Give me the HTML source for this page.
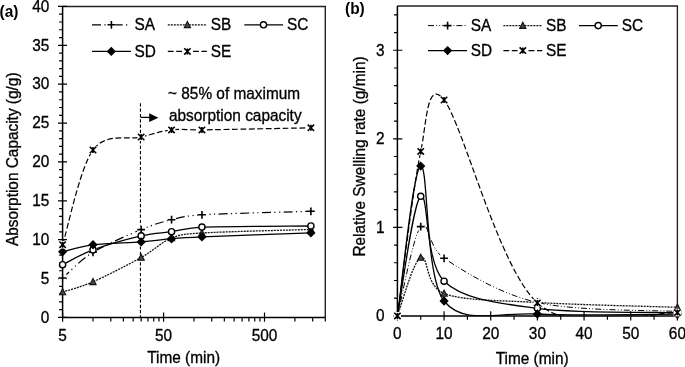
<!DOCTYPE html><html><head><meta charset="utf-8"><style>html,body{margin:0;padding:0;background:#fff;width:685px;height:367px;overflow:hidden}svg{display:block;filter:grayscale(1)}</style></head><body>
<svg width="685" height="367" viewBox="0 0 685 367">
<rect width="685" height="367" fill="#fff"/>
<defs><clipPath id="ca"><rect x="62.6" y="6.45" width="262.7" height="310.95"/></clipPath><clipPath id="cb"><rect x="397.4" y="6" width="280" height="309.9"/></clipPath></defs>
<path d="M62.6,6.45H325.3V317.4" fill="none" stroke="#222" stroke-width="1.4"/>
<path d="M58,317.4H67M59.1,309.63H62.6M59.1,301.85H62.6M59.1,294.08H62.6M59.1,286.3H62.6M58,278.53H67M59.1,270.76H62.6M59.1,262.98H62.6M59.1,255.21H62.6M59.1,247.44H62.6M58,239.66H67M59.1,231.89H62.6M59.1,224.11H62.6M59.1,216.34H62.6M59.1,208.57H62.6M58,200.79H67M59.1,193.02H62.6M59.1,185.25H62.6M59.1,177.47H62.6M59.1,169.7H62.6M58,161.92H67M59.1,154.15H62.6M59.1,146.38H62.6M59.1,138.6H62.6M59.1,130.83H62.6M58,123.06H67M59.1,115.28H62.6M59.1,107.51H62.6M59.1,99.73H62.6M59.1,91.96H62.6M58,84.19H67M59.1,76.41H62.6M59.1,68.64H62.6M59.1,60.87H62.6M59.1,53.09H62.6M58,45.32H67M59.1,37.55H62.6M59.1,29.77H62.6M59.1,22H62.6M59.1,14.22H62.6M58,6.45H67M62.6,312.6V321.8M163.56,312.6V321.8M264.52,312.6V321.8M92.99,317.4V321.4M110.77,317.4V321.4M123.38,317.4V321.4M133.17,317.4V321.4M141.16,317.4V321.4M147.92,317.4V321.4M153.77,317.4V321.4M158.94,317.4V321.4M193.95,317.4V321.4M211.73,317.4V321.4M224.34,317.4V321.4M234.13,317.4V321.4M242.12,317.4V321.4M248.88,317.4V321.4M254.73,317.4V321.4M259.9,317.4V321.4M294.91,317.4V321.4M312.69,317.4V321.4M325.3,317.4V321.4M325.3,317.4V321.4" stroke="#000" stroke-width="1.2" fill="none"/>
<path d="M62.6,6.45V317.4H325.3" fill="none" stroke="#000" stroke-width="1.5"/>
<text transform="translate(49.4,322.7) scale(1,1.08)" text-anchor="end" font-family="Liberation Sans, sans-serif" font-size="15.4" fill="#000" stroke="#000" stroke-width="0.3">0</text>
<text transform="translate(49.4,283.83) scale(1,1.08)" text-anchor="end" font-family="Liberation Sans, sans-serif" font-size="15.4" fill="#000" stroke="#000" stroke-width="0.3">5</text>
<text transform="translate(49.4,244.96) scale(1,1.08)" text-anchor="end" font-family="Liberation Sans, sans-serif" font-size="15.4" fill="#000" stroke="#000" stroke-width="0.3">10</text>
<text transform="translate(49.4,206.09) scale(1,1.08)" text-anchor="end" font-family="Liberation Sans, sans-serif" font-size="15.4" fill="#000" stroke="#000" stroke-width="0.3">15</text>
<text transform="translate(49.4,167.22) scale(1,1.08)" text-anchor="end" font-family="Liberation Sans, sans-serif" font-size="15.4" fill="#000" stroke="#000" stroke-width="0.3">20</text>
<text transform="translate(49.4,128.36) scale(1,1.08)" text-anchor="end" font-family="Liberation Sans, sans-serif" font-size="15.4" fill="#000" stroke="#000" stroke-width="0.3">25</text>
<text transform="translate(49.4,89.49) scale(1,1.08)" text-anchor="end" font-family="Liberation Sans, sans-serif" font-size="15.4" fill="#000" stroke="#000" stroke-width="0.3">30</text>
<text transform="translate(49.4,50.62) scale(1,1.08)" text-anchor="end" font-family="Liberation Sans, sans-serif" font-size="15.4" fill="#000" stroke="#000" stroke-width="0.3">35</text>
<text transform="translate(49.4,11.75) scale(1,1.08)" text-anchor="end" font-family="Liberation Sans, sans-serif" font-size="15.4" fill="#000" stroke="#000" stroke-width="0.3">40</text>
<text transform="translate(62.6,341) scale(1,1.08)" text-anchor="middle" font-family="Liberation Sans, sans-serif" font-size="15.4" fill="#000" stroke="#000" stroke-width="0.3">5</text>
<text transform="translate(163.56,341) scale(1,1.08)" text-anchor="middle" font-family="Liberation Sans, sans-serif" font-size="15.4" fill="#000" stroke="#000" stroke-width="0.3">50</text>
<text transform="translate(264.52,341) scale(1,1.08)" text-anchor="middle" font-family="Liberation Sans, sans-serif" font-size="15.4" fill="#000" stroke="#000" stroke-width="0.3">500</text>
<text transform="translate(183.6,362.7) scale(1,1.08)" text-anchor="middle" font-family="Liberation Sans, sans-serif" font-size="15.4" fill="#000" stroke="#000" stroke-width="0.3">Time (min)</text>
<text transform="translate(18.4,159.3) rotate(-90) scale(1,1.08)" text-anchor="middle" font-family="Liberation Sans, sans-serif" font-size="15.4" fill="#000" stroke="#000" stroke-width="0.3">Absorption Capacity (g/g)</text>
<text transform="translate(-0.5,17.3) scale(1,1.08)" font-family="Liberation Sans, sans-serif" font-size="15.5" font-weight="bold">(a)</text>
<path d="M140.45,103.3V317" stroke="#000" stroke-width="1.1" stroke-dasharray="3.2 2.1" fill="none"/>
<path d="M140.45,117.4H150" stroke="#000" stroke-width="1.3"/>
<path d="M149.2,113.2L158.4,117.7L149.2,122.1Z" fill="#000"/>
<text transform="translate(168,98.6) scale(1,1.08)" font-family="Liberation Sans, sans-serif" font-size="15.4" fill="#000" stroke="#000" stroke-width="0.3">~ 85% of maximum</text>
<text transform="translate(169,121) scale(1,1.08)" font-family="Liberation Sans, sans-serif" font-size="15.4" fill="#000" stroke="#000" stroke-width="0.3">absorption capacity</text>
<g clip-path="url(#ca)">
<path d="M62.6,278 C67.67,273.72 79.9,260.37 92.99,252.3 C106.09,244.23 128.07,235.03 141.16,229.6 C154.25,224.17 161.42,222.17 171.55,219.7 C181.68,217.23 186.58,215.73 201.94,214.8 C225.17,213.4 292.74,211.88 310.9,211.3" fill="none" stroke="#000" stroke-width="1.2" stroke-dasharray="9 3.4 1.2 3.4 1.2 3.4"/>
<path d="M62.6,292 C67.67,290.3 79.9,287.55 92.99,281.8 C106.09,276.05 128.07,264.8 141.16,257.5 C154.25,250.2 161.42,242.08 171.55,238 C181.68,233.92 186.57,233.95 201.94,233 C225.17,231.57 292.74,230 310.9,229.4" fill="none" stroke="#111" stroke-width="1.3" stroke-dasharray="2 1"/>
<path d="M62.6,264.7 C67.67,262.23 79.9,254.7 92.99,249.9 C106.09,245.1 128.07,238.93 141.16,235.9 C154.25,232.87 161.42,233.17 171.55,231.7 C181.68,230.23 186.59,227.73 201.94,227.1 C225.17,226.15 292.74,226.18 310.9,226" fill="none" stroke="#000" stroke-width="1.3"/>
<path d="M62.6,251.7 C67.67,250.55 79.9,246.43 92.99,244.8 C106.09,243.17 128.07,242.92 141.16,241.9 C154.25,240.88 161.42,239.53 171.55,238.7 C181.68,237.87 186.73,237.53 201.94,236.9 C225.17,235.93 292.74,233.57 310.9,232.9" fill="none" stroke="#000" stroke-width="1.3"/>
<path d="M62.6,244.7 C67.67,228.92 79.9,167.95 92.99,150 C106.09,132.05 128.07,140.35 141.16,137 C154.25,133.65 161.42,131.08 171.55,129.9 C181.68,128.72 186.75,130.13 201.94,129.9 C225.17,129.55 292.74,128.15 310.9,127.8" fill="none" stroke="#000" stroke-width="1.2" stroke-dasharray="5.8 2.6"/>
</g>
<rect x="58.7" y="274.1" width="7.8" height="7.8" fill="#fff"/><path d="M58.7,278h7.8M62.6,274.1v7.8" stroke="#000" stroke-width="1.6" fill="none"/>
<rect x="89.09" y="248.4" width="7.8" height="7.8" fill="#fff"/><path d="M89.09,252.3h7.8M92.99,248.4v7.8" stroke="#000" stroke-width="1.6" fill="none"/>
<rect x="137.26" y="225.7" width="7.8" height="7.8" fill="#fff"/><path d="M137.26,229.6h7.8M141.16,225.7v7.8" stroke="#000" stroke-width="1.6" fill="none"/>
<rect x="167.65" y="215.8" width="7.8" height="7.8" fill="#fff"/><path d="M167.65,219.7h7.8M171.55,215.8v7.8" stroke="#000" stroke-width="1.6" fill="none"/>
<rect x="198.04" y="210.9" width="7.8" height="7.8" fill="#fff"/><path d="M198.04,214.8h7.8M201.94,210.9v7.8" stroke="#000" stroke-width="1.6" fill="none"/>
<rect x="307" y="207.4" width="7.8" height="7.8" fill="#fff"/><path d="M307,211.3h7.8M310.9,207.4v7.8" stroke="#000" stroke-width="1.6" fill="none"/>
<path d="M62.6,288.7L65.7,294.8L59.5,294.8Z" fill="#484848" stroke="#111" stroke-width="1.1"/>
<path d="M92.99,278.5L96.09,284.6L89.89,284.6Z" fill="#484848" stroke="#111" stroke-width="1.1"/>
<path d="M141.16,254.2L144.26,260.3L138.06,260.3Z" fill="#484848" stroke="#111" stroke-width="1.1"/>
<path d="M171.55,234.7L174.65,240.8L168.45,240.8Z" fill="#484848" stroke="#111" stroke-width="1.1"/>
<path d="M201.94,229.7L205.04,235.8L198.84,235.8Z" fill="#484848" stroke="#111" stroke-width="1.1"/>
<path d="M310.9,226.1L314,232.2L307.8,232.2Z" fill="#484848" stroke="#111" stroke-width="1.1"/>
<circle cx="62.6" cy="264.7" r="3.1" fill="#fff" stroke="#000" stroke-width="1.4"/>
<circle cx="92.99" cy="249.9" r="3.1" fill="#fff" stroke="#000" stroke-width="1.4"/>
<circle cx="141.16" cy="235.9" r="3.1" fill="#fff" stroke="#000" stroke-width="1.4"/>
<circle cx="171.55" cy="231.7" r="3.1" fill="#fff" stroke="#000" stroke-width="1.4"/>
<circle cx="201.94" cy="227.1" r="3.1" fill="#fff" stroke="#000" stroke-width="1.4"/>
<circle cx="310.9" cy="226" r="3.1" fill="#fff" stroke="#000" stroke-width="1.4"/>
<path d="M62.6,247L67.2,251.7L62.6,256.4L58,251.7Z" fill="#000"/>
<path d="M92.99,240.1L97.59,244.8L92.99,249.5L88.39,244.8Z" fill="#000"/>
<path d="M141.16,237.2L145.76,241.9L141.16,246.6L136.56,241.9Z" fill="#000"/>
<path d="M171.55,234L176.15,238.7L171.55,243.4L166.95,238.7Z" fill="#000"/>
<path d="M201.94,232.2L206.54,236.9L201.94,241.6L197.34,236.9Z" fill="#000"/>
<path d="M310.9,228.2L315.5,232.9L310.9,237.6L306.3,232.9Z" fill="#000"/>
<rect x="58.8" y="240.9" width="7.6" height="7.6" fill="#fff"/><path d="M59.4,241.5l6.4,6.4M65.8,241.5l-6.4,6.4M62.6,241.7v6" stroke="#000" stroke-width="1.6" fill="none"/>
<rect x="89.19" y="146.2" width="7.6" height="7.6" fill="#fff"/><path d="M89.79,146.8l6.4,6.4M96.19,146.8l-6.4,6.4M92.99,147v6" stroke="#000" stroke-width="1.6" fill="none"/>
<rect x="137.36" y="133.2" width="7.6" height="7.6" fill="#fff"/><path d="M137.96,133.8l6.4,6.4M144.36,133.8l-6.4,6.4M141.16,134v6" stroke="#000" stroke-width="1.6" fill="none"/>
<rect x="167.75" y="126.1" width="7.6" height="7.6" fill="#fff"/><path d="M168.35,126.7l6.4,6.4M174.75,126.7l-6.4,6.4M171.55,126.9v6" stroke="#000" stroke-width="1.6" fill="none"/>
<rect x="198.14" y="126.1" width="7.6" height="7.6" fill="#fff"/><path d="M198.74,126.7l6.4,6.4M205.14,126.7l-6.4,6.4M201.94,126.9v6" stroke="#000" stroke-width="1.6" fill="none"/>
<rect x="307.1" y="124" width="7.6" height="7.6" fill="#fff"/><path d="M307.7,124.6l6.4,6.4M314.1,124.6l-6.4,6.4M310.9,124.8v6" stroke="#000" stroke-width="1.6" fill="none"/>
<path d="M92,24.8H130.3" stroke="#000" stroke-width="1.2" stroke-dasharray="9 3.4 1.2 3.4 1.2 3.4" fill="none"/>
<rect x="107.5" y="20.9" width="7.8" height="7.8" fill="#fff"/><path d="M107.5,24.8h7.8M111.4,20.9v7.8" stroke="#000" stroke-width="1.6" fill="none"/>
<text transform="translate(134.5,30.1) scale(1,1.08)" font-family="Liberation Sans, sans-serif" font-size="15.4" fill="#000" stroke="#000" stroke-width="0.3">SA</text>
<path d="M167.8,24.8H206.9" stroke="#111" stroke-width="1.3" stroke-dasharray="2 1" fill="none"/>
<path d="M187.4,21.5L190.5,27.6L184.3,27.6Z" fill="#484848" stroke="#111" stroke-width="1.1"/>
<text transform="translate(210.8,30.1) scale(1,1.08)" font-family="Liberation Sans, sans-serif" font-size="15.4" fill="#000" stroke="#000" stroke-width="0.3">SB</text>
<path d="M244.3,24.8H283.1" stroke="#000" stroke-width="1.3" fill="none"/>
<circle cx="263.5" cy="24.8" r="3.1" fill="#fff" stroke="#000" stroke-width="1.4"/>
<text transform="translate(287.1,30.1) scale(1,1.08)" font-family="Liberation Sans, sans-serif" font-size="15.4" fill="#000" stroke="#000" stroke-width="0.3">SC</text>
<path d="M92,51.4H131" stroke="#000" stroke-width="1.3" fill="none"/>
<path d="M111.3,46.7L115.9,51.4L111.3,56.1L106.7,51.4Z" fill="#000"/>
<text transform="translate(134.5,56.7) scale(1,1.08)" font-family="Liberation Sans, sans-serif" font-size="15.4" fill="#000" stroke="#000" stroke-width="0.3">SD</text>
<path d="M167.8,51.4H206.9" stroke="#000" stroke-width="1.2" stroke-dasharray="5.8 2.6" fill="none"/>
<rect x="183.6" y="47.6" width="7.6" height="7.6" fill="#fff"/><path d="M184.2,48.2l6.4,6.4M190.6,48.2l-6.4,6.4M187.4,48.4v6" stroke="#000" stroke-width="1.6" fill="none"/>
<text transform="translate(210.8,56.7) scale(1,1.08)" font-family="Liberation Sans, sans-serif" font-size="15.4" fill="#000" stroke="#000" stroke-width="0.3">SE</text>
<path d="M397.4,6.0H677.4V315.9" fill="none" stroke="#222" stroke-width="1.4"/>
<path d="M393.1,315.9H402.4M394,298.19H397.4M394,280.48H397.4M394,262.77H397.4M394,245.07H397.4M393.1,227.36H402.4M394,209.65H397.4M394,191.94H397.4M394,174.23H397.4M394,156.52H397.4M393.1,138.81H402.4M394,121.11H397.4M394,103.4H397.4M394,85.69H397.4M394,67.98H397.4M393.1,50.27H402.4M394,32.56H397.4M394,14.85H397.4M397.4,311.3V320.5M420.73,315.9V319.7M444.07,311.3V320.5M467.4,315.9V319.7M490.73,311.3V320.5M514.07,315.9V319.7M537.4,311.3V320.5M560.73,315.9V319.7M584.07,311.3V320.5M607.4,315.9V319.7M630.73,311.3V320.5M654.07,315.9V319.7M677.4,311.3V320.5" stroke="#000" stroke-width="1.2" fill="none"/>
<path d="M397.4,6.0V315.9H677.4" fill="none" stroke="#000" stroke-width="1.5"/>
<text transform="translate(384.6,321.2) scale(1,1.08)" text-anchor="end" font-family="Liberation Sans, sans-serif" font-size="15.4" fill="#000" stroke="#000" stroke-width="0.3">0</text>
<text transform="translate(384.6,232.66) scale(1,1.08)" text-anchor="end" font-family="Liberation Sans, sans-serif" font-size="15.4" fill="#000" stroke="#000" stroke-width="0.3">1</text>
<text transform="translate(384.6,144.11) scale(1,1.08)" text-anchor="end" font-family="Liberation Sans, sans-serif" font-size="15.4" fill="#000" stroke="#000" stroke-width="0.3">2</text>
<text transform="translate(384.6,55.57) scale(1,1.08)" text-anchor="end" font-family="Liberation Sans, sans-serif" font-size="15.4" fill="#000" stroke="#000" stroke-width="0.3">3</text>
<text transform="translate(397.4,339.4) scale(1,1.08)" text-anchor="middle" font-family="Liberation Sans, sans-serif" font-size="15.4" fill="#000" stroke="#000" stroke-width="0.3">0</text>
<text transform="translate(444.07,339.4) scale(1,1.08)" text-anchor="middle" font-family="Liberation Sans, sans-serif" font-size="15.4" fill="#000" stroke="#000" stroke-width="0.3">10</text>
<text transform="translate(490.73,339.4) scale(1,1.08)" text-anchor="middle" font-family="Liberation Sans, sans-serif" font-size="15.4" fill="#000" stroke="#000" stroke-width="0.3">20</text>
<text transform="translate(537.4,339.4) scale(1,1.08)" text-anchor="middle" font-family="Liberation Sans, sans-serif" font-size="15.4" fill="#000" stroke="#000" stroke-width="0.3">30</text>
<text transform="translate(584.07,339.4) scale(1,1.08)" text-anchor="middle" font-family="Liberation Sans, sans-serif" font-size="15.4" fill="#000" stroke="#000" stroke-width="0.3">40</text>
<text transform="translate(630.73,339.4) scale(1,1.08)" text-anchor="middle" font-family="Liberation Sans, sans-serif" font-size="15.4" fill="#000" stroke="#000" stroke-width="0.3">50</text>
<text transform="translate(677.4,339.4) scale(1,1.08)" text-anchor="middle" font-family="Liberation Sans, sans-serif" font-size="15.4" fill="#000" stroke="#000" stroke-width="0.3">60</text>
<text transform="translate(532.1,363.8) scale(1,1.08)" text-anchor="middle" font-family="Liberation Sans, sans-serif" font-size="15.4" fill="#000" stroke="#000" stroke-width="0.3">Time (min)</text>
<text transform="translate(365.1,156.5) rotate(-90) scale(1,1.08)" text-anchor="middle" font-family="Liberation Sans, sans-serif" font-size="15.4" fill="#000" stroke="#000" stroke-width="0.3">Relative Swelling rate (g/min)</text>
<text transform="translate(345,14.3) scale(1,1.08)" font-family="Liberation Sans, sans-serif" font-size="15.5" font-weight="bold">(b)</text>
<g clip-path="url(#cb)">
<path d="M397.4,315.9 C401.29,301.02 412.96,236.2 420.73,226.6 C428.51,217 427.57,247.57 444.07,258.3 C463.51,270.95 498.51,293.63 537.4,302.5 C576.29,311.37 654.07,310 677.4,311.5" fill="none" stroke="#000" stroke-width="1.0" stroke-dasharray="6 2.2 0.9 2.2 0.9 2"/>
<path d="M397.4,315.9 C401.29,306.17 412.96,261.25 420.73,257.5 C428.51,253.75 424.62,285.9 444.07,293.4 C463.51,300.9 498.51,300.18 537.4,302.5 C576.29,304.82 654.07,306.5 677.4,307.3" fill="none" stroke="#111" stroke-width="1.3" stroke-dasharray="2 1"/>
<path d="M397.4,315.9 C401.29,295.97 412.96,202.08 420.73,196.3 C428.51,190.52 424.62,262.53 444.07,281.2 C463.51,299.87 498.51,303.07 537.4,308.3 C576.29,313.53 654.07,311.88 677.4,312.6" fill="none" stroke="#000" stroke-width="1.3"/>
<path d="M397.4,315.9 C401.29,290.93 412.96,168.58 420.73,166.1 C428.51,163.62 424.62,276.35 444.07,301 C463.51,325.65 498.51,311.8 537.4,314 C576.29,316.2 654.07,314.17 677.4,314.2" fill="none" stroke="#000" stroke-width="1.3"/>
<path d="M397.4,315.9 C401.29,288.48 412.96,187.38 420.73,151.4 C426.7,123.81 426.85,77.64 444.07,100 C463.51,125.25 498.51,267.47 537.4,302.9 C576.29,338.33 654.07,310.98 677.4,312.6" fill="none" stroke="#000" stroke-width="1.2" stroke-dasharray="5.8 2.6"/>
</g>
<rect x="416.83" y="222.7" width="7.8" height="7.8" fill="#fff"/><path d="M416.83,226.6h7.8M420.73,222.7v7.8" stroke="#000" stroke-width="1.6" fill="none"/>
<rect x="440.17" y="254.4" width="7.8" height="7.8" fill="#fff"/><path d="M440.17,258.3h7.8M444.07,254.4v7.8" stroke="#000" stroke-width="1.6" fill="none"/>
<rect x="533.5" y="298.6" width="7.8" height="7.8" fill="#fff"/><path d="M533.5,302.5h7.8M537.4,298.6v7.8" stroke="#000" stroke-width="1.6" fill="none"/>
<rect x="673.5" y="307.6" width="7.8" height="7.8" fill="#fff"/><path d="M673.5,311.5h7.8M677.4,307.6v7.8" stroke="#000" stroke-width="1.6" fill="none"/>
<path d="M420.73,254.2L423.83,260.3L417.63,260.3Z" fill="#484848" stroke="#111" stroke-width="1.1"/>
<path d="M444.07,290.1L447.17,296.2L440.97,296.2Z" fill="#484848" stroke="#111" stroke-width="1.1"/>
<path d="M537.4,299.2L540.5,305.3L534.3,305.3Z" fill="#484848" stroke="#111" stroke-width="1.1"/>
<path d="M677.4,304L680.5,310.1L674.3,310.1Z" fill="#484848" stroke="#111" stroke-width="1.1"/>
<circle cx="420.73" cy="196.3" r="3.1" fill="#fff" stroke="#000" stroke-width="1.4"/>
<circle cx="444.07" cy="281.2" r="3.1" fill="#fff" stroke="#000" stroke-width="1.4"/>
<circle cx="537.4" cy="308.3" r="3.1" fill="#fff" stroke="#000" stroke-width="1.4"/>
<circle cx="677.4" cy="312.6" r="3.1" fill="#fff" stroke="#000" stroke-width="1.4"/>
<path d="M420.73,161.4L425.33,166.1L420.73,170.8L416.13,166.1Z" fill="#000"/>
<path d="M444.07,296.3L448.67,301L444.07,305.7L439.47,301Z" fill="#000"/>
<path d="M537.4,309.3L542,314L537.4,318.7L532.8,314Z" fill="#000"/>
<path d="M677.4,309.5L682,314.2L677.4,318.9L672.8,314.2Z" fill="#000"/>
<rect x="393.6" y="312.1" width="7.6" height="7.6" fill="#fff"/><path d="M394.2,312.7l6.4,6.4M400.6,312.7l-6.4,6.4M397.4,312.9v6" stroke="#000" stroke-width="1.6" fill="none"/>
<rect x="416.93" y="147.6" width="7.6" height="7.6" fill="#fff"/><path d="M417.53,148.2l6.4,6.4M423.93,148.2l-6.4,6.4M420.73,148.4v6" stroke="#000" stroke-width="1.6" fill="none"/>
<rect x="440.27" y="96.2" width="7.6" height="7.6" fill="#fff"/><path d="M440.87,96.8l6.4,6.4M447.27,96.8l-6.4,6.4M444.07,97v6" stroke="#000" stroke-width="1.6" fill="none"/>
<rect x="533.6" y="299.1" width="7.6" height="7.6" fill="#fff"/><path d="M534.2,299.7l6.4,6.4M540.6,299.7l-6.4,6.4M537.4,299.9v6" stroke="#000" stroke-width="1.6" fill="none"/>
<rect x="673.6" y="308.8" width="7.6" height="7.6" fill="#fff"/><path d="M674.2,309.4l6.4,6.4M680.6,309.4l-6.4,6.4M677.4,309.6v6" stroke="#000" stroke-width="1.6" fill="none"/>
<path d="M428,25.6H467" stroke="#000" stroke-width="1.0" stroke-dasharray="6 2.2 0.9 2.2 0.9 2" fill="none"/>
<rect x="443.7" y="21.7" width="7.8" height="7.8" fill="#fff"/><path d="M443.7,25.6h7.8M447.6,21.7v7.8" stroke="#000" stroke-width="1.6" fill="none"/>
<text transform="translate(470.7,30.9) scale(1,1.08)" font-family="Liberation Sans, sans-serif" font-size="15.4" fill="#000" stroke="#000" stroke-width="0.3">SA</text>
<path d="M503.4,25.6H542.3" stroke="#111" stroke-width="1.3" stroke-dasharray="2 1" fill="none"/>
<path d="M522.8,22.3L525.9,28.4L519.7,28.4Z" fill="#484848" stroke="#111" stroke-width="1.1"/>
<text transform="translate(546,30.9) scale(1,1.08)" font-family="Liberation Sans, sans-serif" font-size="15.4" fill="#000" stroke="#000" stroke-width="0.3">SB</text>
<path d="M579,25.6H617.8" stroke="#000" stroke-width="1.3" fill="none"/>
<circle cx="598.2" cy="25.6" r="3.1" fill="#fff" stroke="#000" stroke-width="1.4"/>
<text transform="translate(621.8,30.9) scale(1,1.08)" font-family="Liberation Sans, sans-serif" font-size="15.4" fill="#000" stroke="#000" stroke-width="0.3">SC</text>
<path d="M428,50.6H467" stroke="#000" stroke-width="1.3" fill="none"/>
<path d="M447.6,45.9L452.2,50.6L447.6,55.3L443,50.6Z" fill="#000"/>
<text transform="translate(470.7,55.9) scale(1,1.08)" font-family="Liberation Sans, sans-serif" font-size="15.4" fill="#000" stroke="#000" stroke-width="0.3">SD</text>
<path d="M503.4,50.6H542.3" stroke="#000" stroke-width="1.2" stroke-dasharray="5.8 2.6" fill="none"/>
<rect x="519" y="46.8" width="7.6" height="7.6" fill="#fff"/><path d="M519.6,47.4l6.4,6.4M526,47.4l-6.4,6.4M522.8,47.6v6" stroke="#000" stroke-width="1.6" fill="none"/>
<text transform="translate(546,55.9) scale(1,1.08)" font-family="Liberation Sans, sans-serif" font-size="15.4" fill="#000" stroke="#000" stroke-width="0.3">SE</text>
</svg></body></html>
